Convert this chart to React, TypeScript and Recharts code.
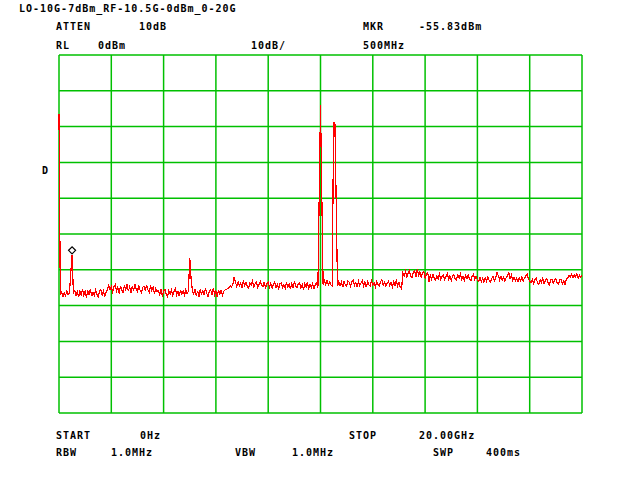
import { LineChart, Line, XAxis, YAxis, CartesianGrid, ReferenceDot } from 'recharts'

// sweep: 0 - 20 GHz, 401 points, reference level 0 dBm, 10 dB/div
const STEP = 0.05
const freqTicks = [0, 2, 4, 6, 8, 10, 12, 14, 16, 18, 20]
const levelTicks = [0, -10, -20, -30, -40, -50, -60, -70, -80, -90, -100]

// signals (GHz, dBm)
const peaks: [number, number][] = [
  [0, -16.5],
  [0.45, -60.9],
  [0.5, -55.83],
  [5.0, -56.7],
  [5.05, -62.3],
  [9.95, -39.7],
  [10.0, -14.0],
  [10.05, -39.1],
  [10.5, -19.0],
  [10.55, -19.0],
  [10.6, -41.0],
]

// noise floor pieces, each starting at a frequency (GHz)
const floor1 = [-67.1, -66.2, -67.5, -66.4, -67.2, -66.0, -67.0, -66.3]
const floor2 = [
  -66.5, -65.8, -67.2, -66.1, -67.7, -65.9, -67.0, -65.3, -67.1, -66.0, -67.8, -65.8, -66.9, -65.4,
  -67.4, -66.2, -67.2, -65.6, -66.8, -67.5, -66.0, -65.5, -67.0, -65.9, -67.3, -66.2, -65.6,
]
const floor3 = [
  -64.3, -65.5, -64.6, -66.1, -64.8, -64.2, -65.9, -64.9, -66.6, -64.5, -65.7, -66.3, -64.4, -65.6,
  -64.1, -66.0, -64.8, -66.5, -64.6, -65.8, -64.0, -65.5, -66.2, -64.3, -65.7, -66.4, -64.9, -64.5,
  -65.9, -64.2, -65.6, -66.3, -64.4, -65.8, -64.8, -66.6, -65.2, -66.1,
]
const floor4 = [
  -65.8, -66.9, -65.5, -67.2, -66.0, -65.4, -66.8, -67.5, -65.8, -66.7, -65.6, -67.1, -65.9, -65.3,
  -67.0, -66.1, -67.4, -65.6, -66.8, -66.0, -67.1, -65.5, -66.7, -65.9,
]
const floor5 = [
  -65.8, -66.8, -65.4, -67.2, -65.9, -67.6, -65.5, -66.7, -65.8, -67.1, -65.2, -66.6, -67.4, -66.0,
  -65.6, -66.9, -65.1, -67.0, -65.9, -67.7, -65.6, -66.7, -65.8, -67.1, -66.0, -65.6,
]
const floor6 = [
  -65.6, -65.2, -64.9, -64.4, -64.8, -64.0, -62.0, -63.5, -64.7, -63.3, -64.5, -63.7, -64.9, -63.2,
  -64.4, -63.5, -64.6, -65.1, -63.6, -64.2, -63.1, -64.8, -63.9, -63.5, -65.0, -64.0, -63.3, -64.3,
  -64.7, -63.4, -65.2, -63.9, -63.5,
]
const floor7 = [
  -64.8, -63.8, -65.1, -64.0, -63.4, -64.9, -64.1, -65.3, -63.9, -63.6, -65.0, -64.2, -65.2, -63.5,
  -64.8, -64.0, -65.4, -63.8, -64.9, -63.3, -64.6, -65.1, -63.9, -63.6, -65.0, -64.1, -65.5, -63.8,
  -64.8, -63.5, -65.2, -64.0, -64.9, -63.9, -65.3, -64.2, -63.6, -65.0,
]
const floor8 = [-64.1, -63.1, -64.1, -63.0, -64.3, -63.4, -64.2, -64.5]
const floor9 = [
  -64.6, -63.3, -64.4, -63.5, -64.9, -63.2, -64.2, -64.5, -63.1, -63.5, -64.7, -63.3, -62.9, -64.3,
  -63.5, -64.8, -63.2, -64.4, -63.7, -63.0, -64.5, -63.4, -64.9, -63.3, -64.2, -64.6, -63.1, -64.3,
  -63.6, -64.7, -63.2, -64.2, -64.5, -63.3, -62.8, -64.3, -63.4, -64.6, -63.7, -63.2, -64.4, -63.5,
  -64.7, -63.3, -64.3, -63.0, -64.5, -63.5, -64.8, -65.3,
]
const floor10 = [
  -61.0, -61.8, -60.5, -62.0, -61.0, -60.3, -61.7, -62.2, -60.8, -60.2, -61.9, -59.7, -61.6, -60.6,
  -62.1, -60.9, -60.4, -62.3, -61.2, -60.7,
]
const floor11 = [
  -63.3, -61.5, -62.6, -61.3, -62.4, -62.9, -61.6, -62.5, -61.2, -62.7, -61.8, -61.4, -62.8, -61.9,
  -61.1, -62.6, -61.7, -63.0, -61.8, -61.3, -62.5, -62.8, -61.5, -62.3, -61.2, -62.7, -61.8, -62.9,
  -61.6, -62.5, -61.4, -62.6, -63.1, -61.8, -61.3, -62.7, -61.9, -62.8,
]
const floor12 = [
  -63.1, -62.2, -63.3, -62.4, -63.5, -62.2, -63.2, -62.0, -63.0, -63.4, -62.4, -61.9, -63.1, -62.2,
  -60.8, -61.6, -62.8, -61.9, -63.0, -62.1, -63.2, -62.2, -61.7, -60.9, -62.5, -61.5, -62.9, -62.1,
  -63.1, -62.3, -63.3, -62.2, -63.0, -61.9, -63.2, -62.3, -61.8, -61.1, -62.7, -63.1,
]
const floor13 = [
  -63.6, -62.6, -63.8, -62.8, -62.3, -63.7, -64.1, -62.7, -63.5, -62.3, -63.9, -62.9, -62.5, -63.6,
  -64.2, -62.8, -62.6, -63.8, -63.0, -62.4, -63.7, -64.0, -62.8, -62.7, -63.9, -63.1, -64.1, -62.6,
]
const floor14 = [-62.4, -61.5, -62.1, -61.3, -62.2, -61.4, -62.0, -61.2, -62.3, -61.5, -62.1, -61.4]

const floorStarts: [number, number[]][] = [
  [0.05, floor1],
  [0.55, floor2],
  [1.9, floor3],
  [3.8, floor4],
  [5.1, floor5],
  [6.4, floor6],
  [8.05, floor7],
  [10.1, floor8],
  [10.65, floor9],
  [13.15, floor10],
  [14.15, floor11],
  [16.05, floor12],
  [18.05, floor13],
  [19.45, floor14],
]

const points = new Map<number, number>()
floorStarts.forEach(([start, vals]) => {
  const i0 = Math.round(start / STEP)
  vals.forEach((v, k) => points.set(i0 + k, v))
})
peaks.forEach(([f, v]) => points.set(Math.round(f / STEP), v))

const data = [...points.entries()]
  .sort((a, b) => a[0] - b[0])
  .map(([i, v]) => ({ f: +(i * STEP).toFixed(2), dBm: v }))

const font = {
  fontFamily: '"DejaVu Sans Mono", monospace',
  fontWeight: 700,
  fontSize: 10,
  letterSpacing: 1,
  fill: '#000',
}

function T({ x, y, children }: { x: number; y: number; children: string }) {
  return (
    <text x={x} y={y} style={font}>
      {children}
    </text>
  )
}

function Marker(props: any) {
  const { cx, cy } = props
  if (cx == null || cy == null) return null
  const p = `${cx},${cy - 1} ${cx + 3.5},${cy - 4.5} ${cx},${cy - 8} ${cx - 3.5},${cy - 4.5}`
  return <polygon points={p} fill="#fff" stroke="#000" strokeWidth={1.2} />
}

export default function App() {
  return (
    <div style={{ position: 'absolute', left: 0, top: 0, width: 640, height: 480, background: '#fff' }}>
      <LineChart
        width={640}
        height={480}
        data={data}
        margin={{ top: 55, right: 58, bottom: 67, left: 59 }}
      >
        <CartesianGrid stroke="#00c000" strokeWidth={1.5} />
        <XAxis type="number" dataKey="f" domain={[0, 20]} ticks={freqTicks} hide />
        <YAxis type="number" domain={[-100, 0]} ticks={levelTicks} hide />
        <Line
          type="linear"
          dataKey="dBm"
          stroke="#ff0000"
          strokeWidth={1.2}
          shapeRendering="crispEdges"
          dot={false}
          isAnimationActive={false}
        />
        <ReferenceDot x={0.5} y={-55.83} r={3} shape={<Marker />} />
      </LineChart>
      <svg
        width={640}
        height={480}
        style={{ position: 'absolute', left: 0, top: 0, pointerEvents: 'none' }}
      >
        <T x={19} y={12}>LO-10G-7dBm_RF-10.5G-0dBm_0-20G</T>
        <T x={56} y={30}>ATTEN</T>
        <T x={139} y={30}>10dB</T>
        <T x={363} y={30}>MKR</T>
        <T x={419} y={30}>-55.83dBm</T>
        <T x={56} y={49}>RL</T>
        <T x={98} y={49}>0dBm</T>
        <T x={251} y={49}>10dB/</T>
        <T x={363} y={49}>500MHz</T>
        <T x={42} y={174}>D</T>
        <T x={56} y={439}>START</T>
        <T x={140} y={439}>0Hz</T>
        <T x={349} y={439}>STOP</T>
        <T x={419} y={439}>20.00GHz</T>
        <T x={56} y={456}>RBW</T>
        <T x={111} y={456}>1.0MHz</T>
        <T x={235} y={456}>VBW</T>
        <T x={292} y={456}>1.0MHz</T>
        <T x={433} y={456}>SWP</T>
        <T x={486} y={456}>400ms</T>
      </svg>
    </div>
  )
}
